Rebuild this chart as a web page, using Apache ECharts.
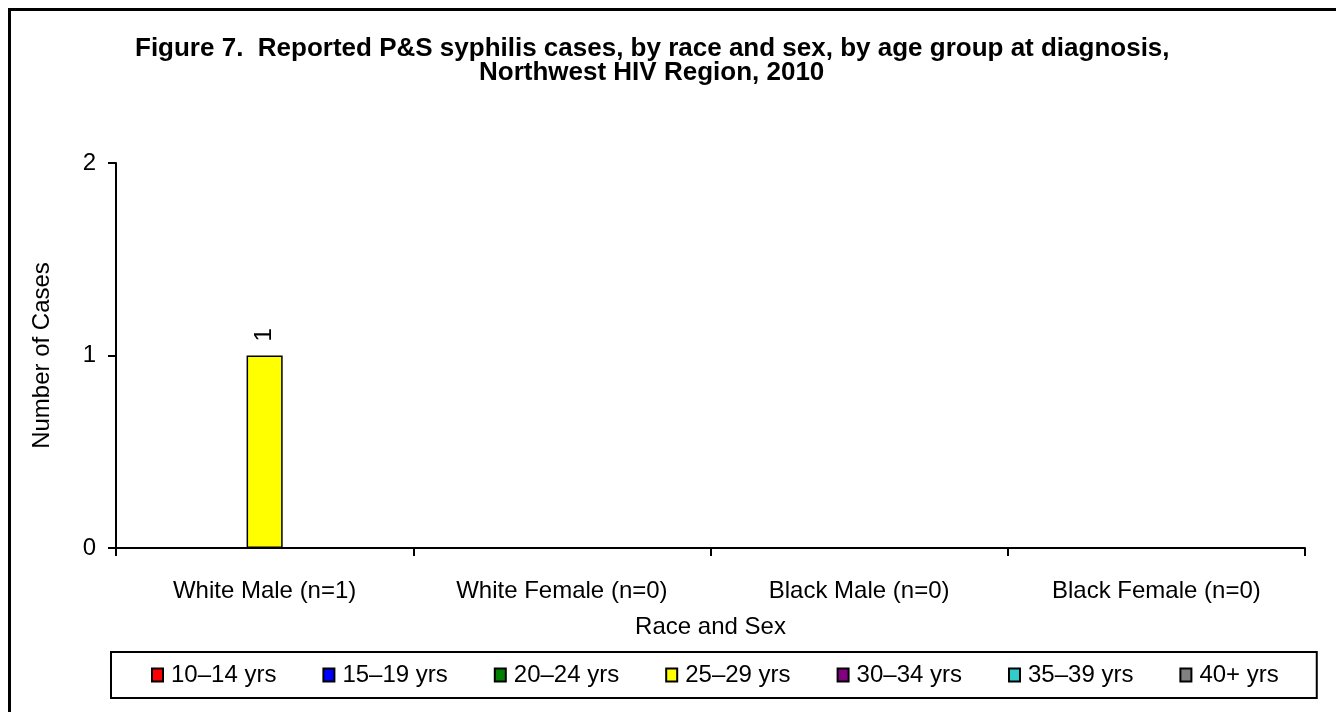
<!DOCTYPE html>
<html>
<head>
<meta charset="utf-8">
<script src="https://cdn.jsdelivr.net/npm/echarts@6/dist/echarts.min.js"></script>
<style>
  html, body { margin: 0; padding: 0; background: #fff; }
  #chart { width: 1336px; height: 712px; }
</style>
</head>
<body>
<div id="chart"></div>
<script>
const categories = ['White Male (n=1)', 'White Female (n=0)', 'Black Male (n=0)', 'Black Female (n=0)'];
const ageGroups = ['10–14 yrs', '15–19 yrs', '20–24 yrs', '25–29 yrs', '30–34 yrs', '35–39 yrs', '40+ yrs'];
const ageColors = ['#FF0000', '#0000FF', '#008000', '#FFFF00', '#800080', '#33CCCC', '#808080'];
// cases per age group, one value per category
const cases10to14 = [0, 0, 0, 0];
const cases15to19 = [0, 0, 0, 0];
const cases20to24 = [0, 0, 0, 0];
const cases25to29 = [1, 0, 0, 0];
const cases30to34 = [0, 0, 0, 0];
const cases35to39 = [0, 0, 0, 0];
const cases40plus = [0, 0, 0, 0];
const yTicks = [0, 1, 2];

const seriesData = [cases10to14, cases15to19, cases20to24, cases25to29, cases30to34, cases35to39, cases40plus];
const FONT = 'Liberation Sans, Arial, sans-serif';
const titleStyle = { fontFamily: FONT, fontWeight: 'bold', fontSize: 26, lineHeight: 26, color: '#000' };

const chart = echarts.init(document.getElementById('chart'));

const option = {
  backgroundColor: '#fff',
  animation: false,
  // two title lines, both centred a bit left of the page middle
  title: [{
    text: 'Figure 7.  Reported P&S syphilis cases, by race and sex, by age group at diagnosis,',
    left: 135,
    top: 36,
    padding: 0,
    textStyle: titleStyle
  }, {
    text: 'Northwest HIV Region, 2010',
    left: 479,
    top: 60,
    padding: 0,
    textStyle: titleStyle
  }],
  // outer frame (only left and top edges fall inside the picture)
  graphic: [{
    type: 'rect',
    shape: { x: 9.5, y: 9.5, width: 1400, height: 800 },
    style: { fill: null, stroke: '#000', lineWidth: 3 },
    silent: true
  }],
  legend: {
    data: ageGroups,
    left: 111,
    top: 652,
    orient: 'horizontal',
    icon: 'rect',
    itemWidth: 11,
    itemHeight: 13,
    itemGap: 46,
    padding: [11, 38, 11, 40],
    borderColor: '#000',
    borderWidth: 2,
    textStyle: { fontFamily: FONT, fontSize: 24, color: '#000', padding: [0, 0, 0, 3] }
  },
  grid: { left: 116, right: 31, top: 163, bottom: 164 },
  xAxis: {
    type: 'category',
    data: categories,
    name: 'Race and Sex',
    nameLocation: 'middle',
    nameGap: 67,
    nameTextStyle: { fontFamily: FONT, fontSize: 24, color: '#000' },
    axisLine: { lineStyle: { color: '#000', width: 2 } },
    axisTick: { show: true, length: 8, lineStyle: { color: '#000', width: 2 } },
    axisLabel: { fontFamily: FONT, fontSize: 24, color: '#000', margin: 31 }
  },
  yAxis: {
    type: 'value',
    min: yTicks[0],
    max: yTicks[yTicks.length - 1],
    interval: 1,
    name: 'Number of Cases',
    nameLocation: 'middle',
    nameRotate: 90,
    nameGap: 62,
    nameTextStyle: { fontFamily: FONT, fontSize: 24, color: '#000' },
    axisLine: { show: true, lineStyle: { color: '#000', width: 2 } },
    axisTick: { show: true, length: 8, lineStyle: { color: '#000', width: 2 } },
    axisLabel: { fontFamily: FONT, fontSize: 24, color: '#000', margin: 20 },
    splitLine: { show: false }
  },
  series: ageGroups.map(function (name, i) {
    return {
      name: name,
      type: 'bar',
      data: seriesData[i],
      barGap: '0%',
      barCategoryGap: '15%',
      itemStyle: { color: ageColors[i], borderColor: '#000', borderWidth: 1.5 },
      label: {
        show: true,
        position: 'top',
        rotate: 90,
        align: 'left',
        verticalAlign: 'middle',
        distance: 14,
        fontFamily: FONT,
        fontSize: 24,
        color: '#000',
        formatter: function (p) { return p.value ? String(p.value) : ''; }
      }
    };
  })
};

chart.setOption(option);
</script>
</body>
</html>
